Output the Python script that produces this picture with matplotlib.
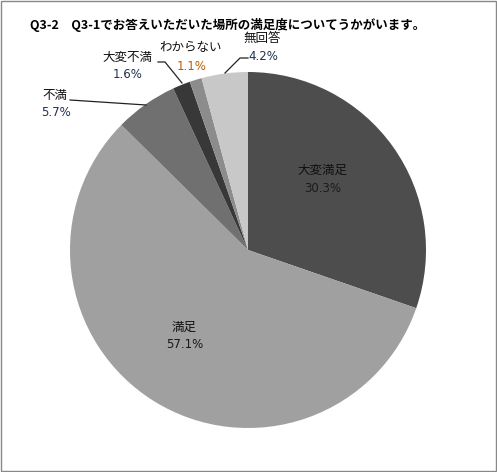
import matplotlib.pyplot as plt
import matplotlib as mpl
from matplotlib.patches import Rectangle

mpl.rcParams['font.family'] = ['Noto Sans CJK JP', 'DejaVu Sans']

categories = ['大変満足', '満足', '不満', '大変不満', 'わからない', '無回答']
values = [30.3, 57.1, 5.7, 1.6, 1.1, 4.2]
colors = ['#4d4d4d', '#a0a0a0', '#707070', '#383838', '#8c8c8c', '#c8c8c8']
title = 'Q3-2　Q3-1でお答えいただいた場所の満足度についてうかがいます。'

W, H = 497, 472
fig = plt.figure(figsize=(W/100, H/100), dpi=100)

def fx(x):
    return x / W

def fy(y):
    return 1 - y / H

# pie: center (248,250) px, radius 178 px
cx, cy, r = 248, 250, 178
ax = fig.add_axes([fx(cx - r), fy(cy + r), 2*r/W, 2*r/H])
ax.pie(values, colors=colors, startangle=90, counterclock=False,
       wedgeprops=dict(linewidth=0))
ax.set_xlim(-1, 1)
ax.set_ylim(-1, 1)
ax.set_aspect('auto')
ax.axis('off')

fig.text(fx(30), fy(25), title, fontsize=9, fontweight='bold', va='center', ha='left')

# label positions (name center, pct center) in pixels
lab_pos = [(322, 170), (184, 327), (55, 95), (127, 57), (191, 48), (262, 38)]
pct_colors = ['#1a1a1a', '#1a1a1a', '#1f3050', '#1f3050', '#c05a00', '#1f3050']
for name, v, (x, y), pc in zip(categories, values, lab_pos, pct_colors):
    fig.text(fx(x), fy(y), name, fontsize=9, ha='center', va='center', color='#111111')
    fig.text(fx(x + 1), fy(y + 18), f'{v}%', fontsize=8.5, ha='center', va='center',
             color=pc, family='DejaVu Sans')

# leader lines
leaders = [
    [(70, 100), (146, 105)],
    [(158, 62), (165, 62), (182, 83)],
    [(248, 58), (240, 58), (225, 73)],
]
for pts in leaders:
    xs = [fx(p[0]) for p in pts]
    ys = [fy(p[1]) for p in pts]
    fig.add_artist(plt.Line2D(xs, ys, color='#222222', lw=0.9))

fig.add_artist(Rectangle((0.6/W, 0.6/H), (W-1.2)/W, (H-1.2)/H, transform=fig.transFigure,
                         fill=False, edgecolor='#888888', lw=1))

fig.savefig('out.png', dpi=100)
